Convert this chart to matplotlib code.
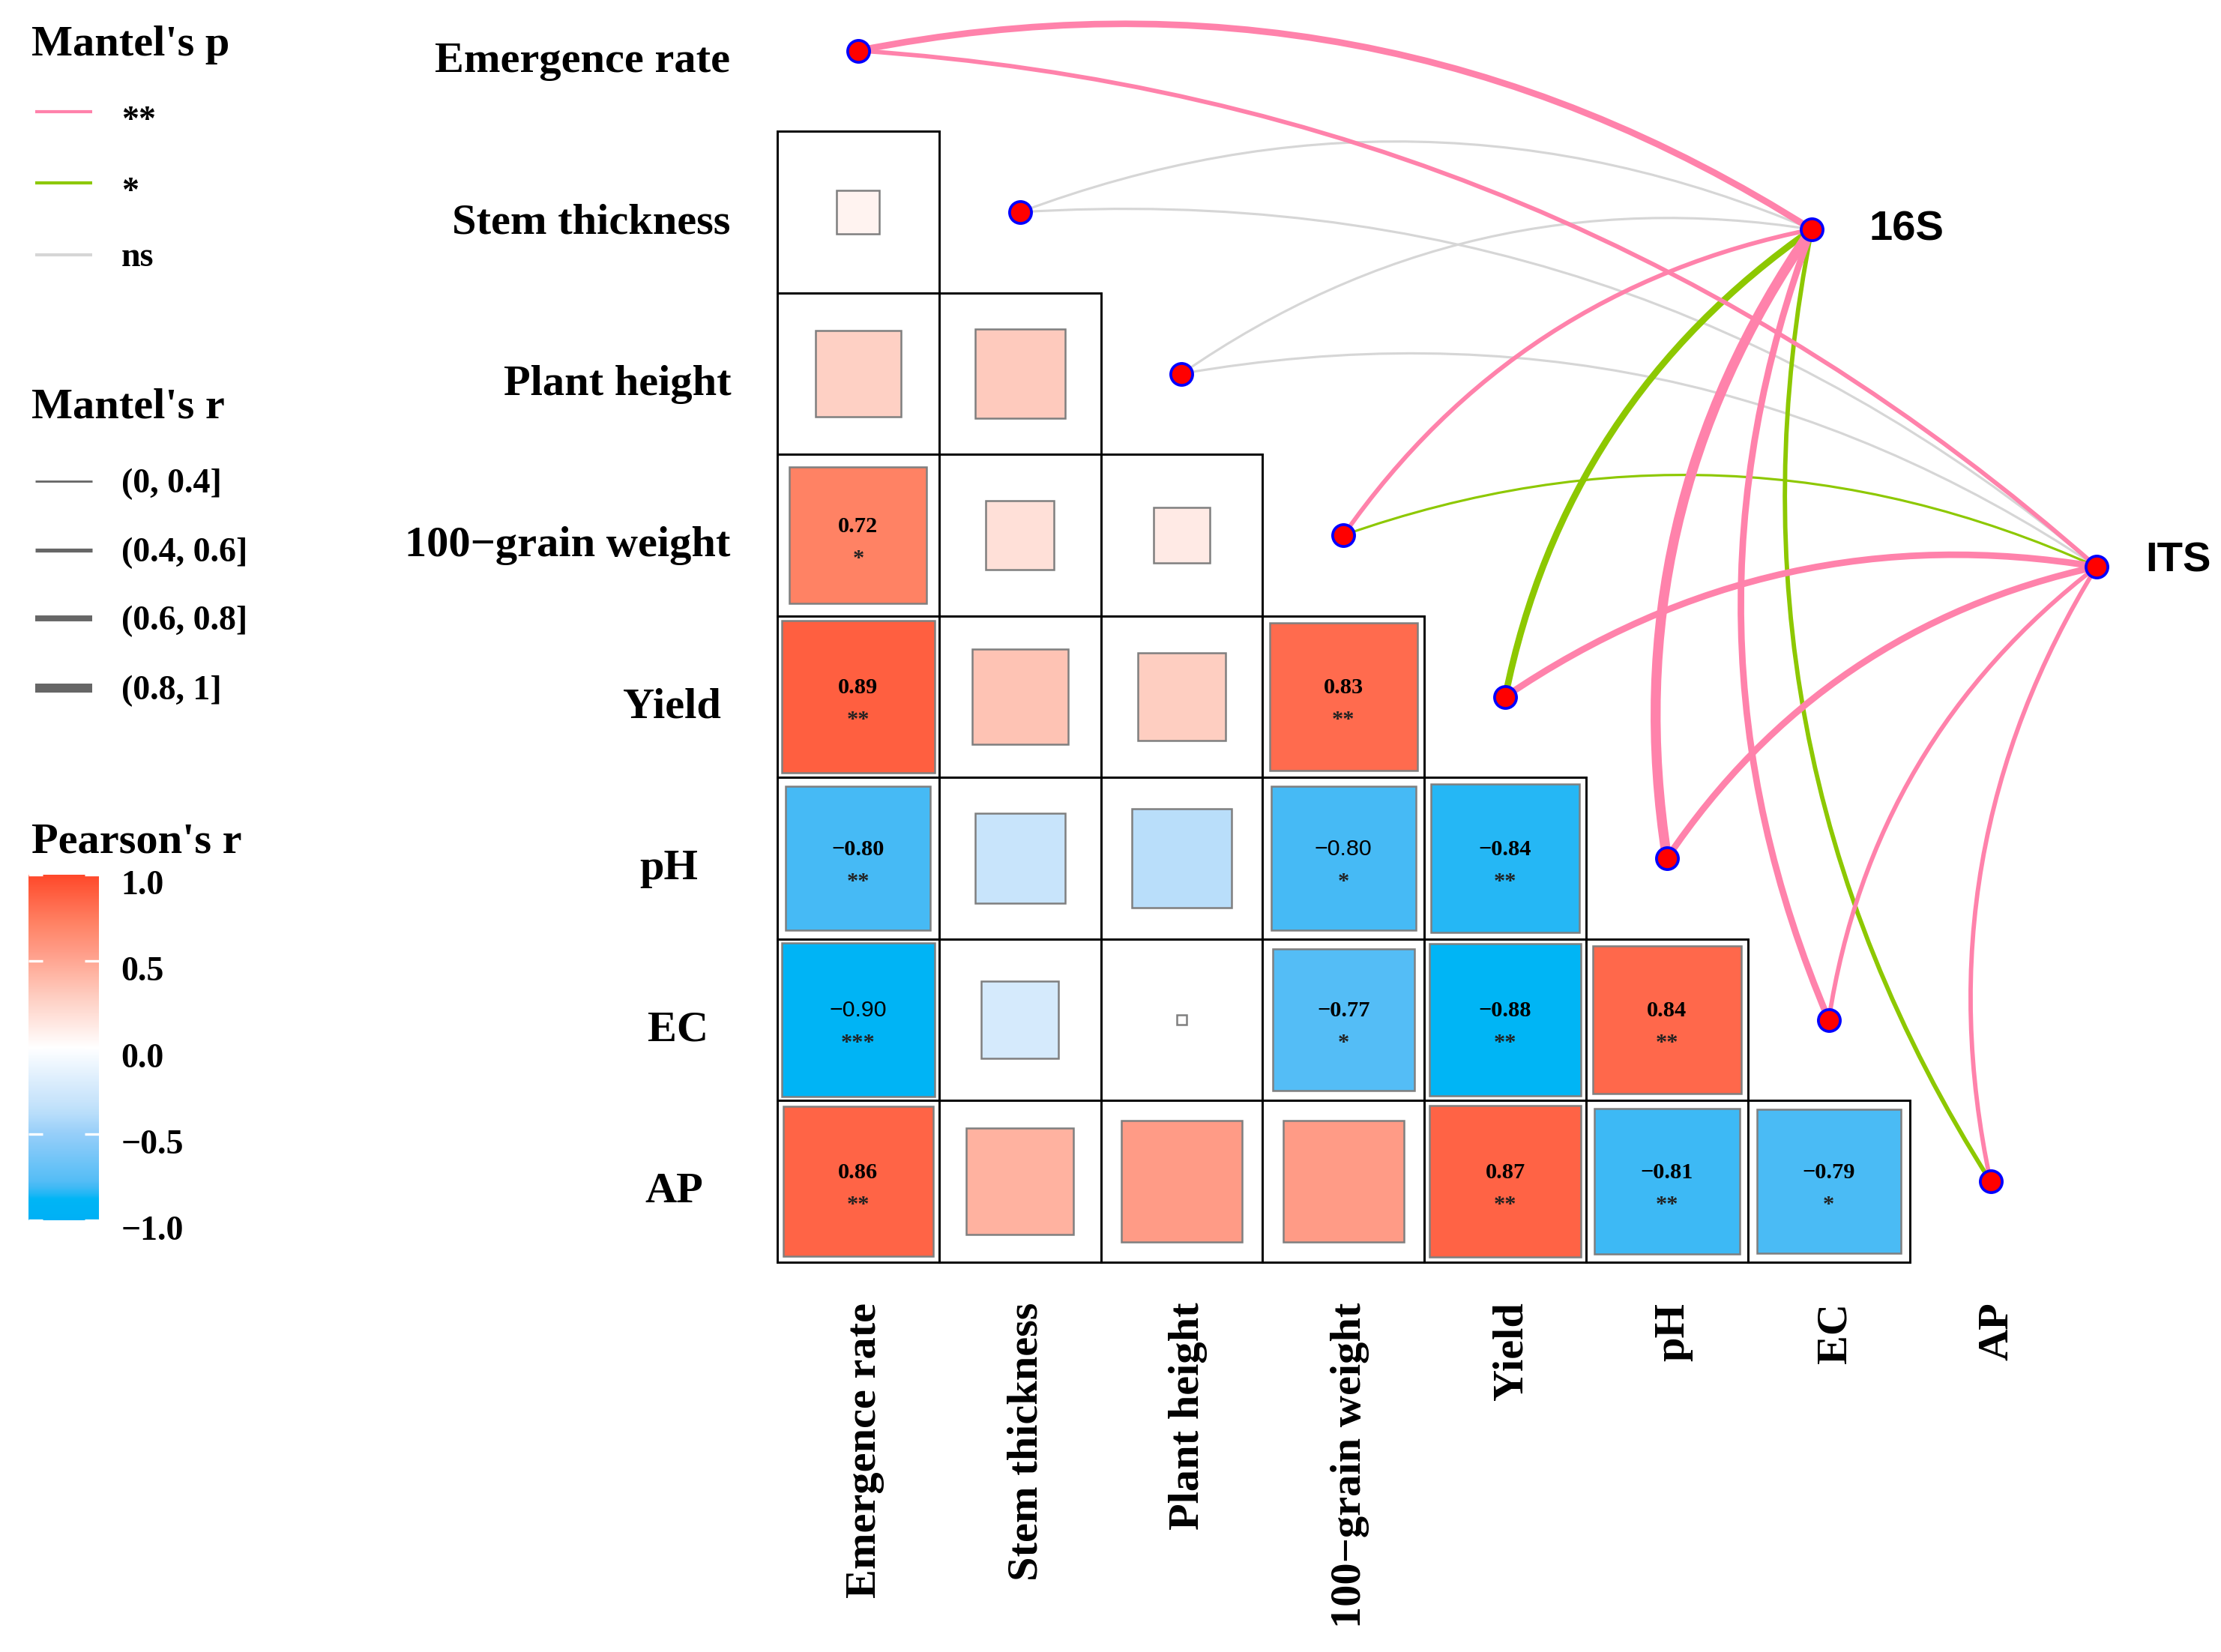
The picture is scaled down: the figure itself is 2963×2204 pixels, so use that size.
import numpy as np
import matplotlib
matplotlib.use("Agg")
import matplotlib.pyplot as plt
from matplotlib.patches import Rectangle, PathPatch
from matplotlib.path import Path
from matplotlib.colors import LinearSegmentedColormap, Normalize
from matplotlib.cm import ScalarMappable
from matplotlib.font_manager import FontProperties
import matplotlib.transforms as mtransforms

# ---------------- data ----------------
variables = ["Emergence rate", "Stem thickness", "Plant height", "100\u2212grain weight",
             "Yield", "pH", "EC", "AP"]

# lower triangle of Pearson's r (row i, columns 0..i-1)
pearson_r = [
    [],
    [0.07],
    [0.28, 0.31],
    [0.72, 0.18, 0.12],
    [0.89, 0.35, 0.29, 0.83],
    [-0.80, -0.31, -0.38, -0.80, -0.84],
    [-0.90, -0.23, 0.004, -0.77, -0.88, 0.84],
    [0.86, 0.44, 0.56, 0.56, 0.87, -0.81, -0.79],
]
pearson_sig = [
    [],
    [""],
    ["", ""],
    ["*", "", ""],
    ["**", "", "", "**"],
    ["**", "", "", "*", "**"],
    ["***", "", "", "*", "**", "**"],
    ["**", "", "", "", "**", "**", "*"],
]
sans_cells = [(6, 0), (5, 3)]  # labels printed in a sans font in the original

mantel_env = ["16S"] * 8 + ["ITS"] * 8
mantel_spec = variables * 2
mantel_p = ["**", "ns", "ns", "**", "*", "**", "**", "*",
            "**", "ns", "ns", "*", "**", "**", "**", "**"]
mantel_r = ["(0.6, 0.8]", "(0, 0.4]", "(0, 0.4]", "(0.4, 0.6]", "(0.6, 0.8]", "(0.8, 1]", "(0.6, 0.8]", "(0.4, 0.6]",
            "(0.4, 0.6]", "(0, 0.4]", "(0, 0.4]", "(0, 0.4]", "(0.6, 0.8]", "(0.6, 0.8]", "(0.4, 0.6]", "(0.4, 0.6]"]

p_levels = ["**", "*", "ns"]
r_levels = ["(0, 0.4]", "(0.4, 0.6]", "(0.6, 0.8]", "(0.8, 1]"]
cbar_ticks = [-1.0, -0.5, 0.0, 0.5, 1.0]
cbar_labels = ["\u22121.0", "\u22120.5", "0.0", "0.5", "1.0"]

# ---------------- style ----------------
p_colors = {"**": "#FF82AB", "*": "#8DC800", "ns": "#D6D6D6"}
r_widths = {"(0, 0.4]": 0.75, "(0.4, 0.6]": 1.4, "(0.6, 0.8]": 2.1, "(0.8, 1]": 3.2}
env_pos = {"16S": (5.895, 1.107), "ITS": (7.656, 3.195)}
env_label_pos = {"16S": (6.25, 1.107), "ITS": (7.96, 3.16)}
row_label_right = [-0.792, -0.792, -0.783, -0.792, -0.848, -0.991, -0.926, -0.959]
edge_curv = [0.20] * 8 + [0.17] + [0.20] * 7

serif_b = FontProperties(family="Liberation Serif", weight="bold")
sans_b = FontProperties(family="Liberation Sans", weight="bold")

# colour scale stops (value, rgb 0-255)
scale_stops = [
    (-1.00, (0, 176, 245)), (-0.88, (0, 181, 245)), (-0.84, (40, 183, 245)),
    (-0.80, (70, 186, 245)), (-0.77, (85, 189, 246)), (-0.50, (150, 206, 249)),
    (-0.38, (185, 222, 250)), (-0.31, (200, 228, 251)), (-0.23, (213, 234, 252)),
    (0.00, (255, 255, 255)),
    (0.12, (255, 234, 229)), (0.28, (254, 208, 196)), (0.44, (255, 178, 160)),
    (0.56, (255, 155, 134)), (0.72, (255, 130, 100)), (0.84, (255, 105, 76)),
    (0.89, (255, 95, 64)), (1.00, (255, 72, 42)),
]
cmap = LinearSegmentedColormap.from_list(
    "pr", [((v + 1) / 2, tuple(c / 255 for c in rgb)) for v, rgb in scale_stops], N=512)
norm = Normalize(-1, 1)

W, H = 2963, 2204
fig = plt.figure(figsize=(W / 300, H / 300), dpi=300)
fig.patch.set_facecolor("white")

# main axes: one data unit = one cell
cell_px_x, cell_px_y = 215.8, 215.5
x0 = -0.5 - 1037 / cell_px_x
y0 = -67.5 / cell_px_y
ax = fig.add_axes([0, 0, 1, 1])
ax.set_xlim(x0, x0 + W / cell_px_x)
ax.set_ylim(y0 + H / cell_px_y, y0)
ax.axis("off")

n = len(variables)

# cells
for i in range(n):
    for j in range(i):
        v = pearson_r[i][j]
        ax.add_patch(Rectangle((j - 0.5, i - 0.5), 1, 1, facecolor="white",
                               edgecolor="black", lw=0.7, zorder=1))
        s = np.sqrt(abs(v))
        ax.add_patch(Rectangle((j - s / 2, i - s / 2), s, s, facecolor=cmap(norm(v)),
                               edgecolor="#7F7F7F", lw=0.6, zorder=2))
        sig = pearson_sig[i][j]
        if sig:
            txt = f"{v:.2f}".replace("-", "\u2212")
            if (i, j) in sans_cells:
                ax.text(j, i - 0.02, txt, ha="center", va="baseline", fontsize=7.3,
                        family="Liberation Sans", zorder=3)
            else:
                ax.text(j, i - 0.02, txt, ha="center", va="baseline", fontsize=7.3,
                        fontproperties=serif_b, zorder=3)
            ax.text(j, i + 0.18, sig, ha="center", va="baseline", fontsize=7.3,
                    fontproperties=serif_b, color="#222222", zorder=3)

# row labels
for i, name in enumerate(variables):
    ax.text(row_label_right[i], i + 0.065, name, ha="right", va="center",
            fontproperties=serif_b, fontsize=14)
# column labels
for j, name in enumerate(variables):
    ax.text(j + 0.04, 7.75, name, ha="center", va="top", rotation=90,
            fontproperties=serif_b, fontsize=14)

# mantel edges (quadratic Bezier, bulging to the left of travel)
order = sorted(range(len(mantel_env)), key=lambda k: -p_levels.index(mantel_p[k]))
for k in order:
    vi = variables.index(mantel_spec[k])
    sx, sy = vi, vi
    ex, ey = env_pos[mantel_env[k]]
    dx, dy = ex - sx, ey - sy
    L = np.hypot(dx, dy)
    nx, ny = dy / L, -dx / L
    cx = (sx + ex) / 2 + edge_curv[k] * L * nx
    cy = (sy + ey) / 2 + edge_curv[k] * L * ny
    path = Path([(sx, sy), (cx, cy), (ex, ey)], [Path.MOVETO, Path.CURVE3, Path.CURVE3])
    ax.add_patch(PathPatch(path, facecolor="none", edgecolor=p_colors[mantel_p[k]],
                           lw=r_widths[mantel_r[k]], capstyle="round", zorder=4))

# nodes
diag = np.arange(n)
ax.plot(diag, diag, "o", ms=7.0, mfc="red", mec="blue", mew=0.9, ls="none", zorder=5)
for name, (x, y) in env_pos.items():
    ax.plot([x], [y], "o", ms=7.0, mfc="red", mec="blue", mew=0.9, zorder=5)
    lx, ly = env_label_pos[name]
    ax.text(lx, ly, name, ha="left", va="center", fontproperties=sans_b, fontsize=13.5)

# ---------------- legends (pixel coordinates) ----------------
lax = fig.add_axes([0, 0, 1, 1])
lax.set_xlim(0, W)
lax.set_ylim(H, 0)
lax.axis("off")

lax.text(42, 60, "Mantel's p", ha="left", va="center", fontproperties=serif_b, fontsize=14)
for lab, y in zip(p_levels, [149, 244, 340]):
    lax.plot([47, 123], [y, y], color=p_colors[lab], lw=1.0, solid_capstyle="butt")
    if "*" in lab:
        lax.text(162, y + 24, lab, ha="left", va="baseline", fontproperties=serif_b, fontsize=11)
    else:
        lax.text(162, y + 4, lab, ha="left", va="center", fontproperties=serif_b, fontsize=11)

lax.text(42, 544, "Mantel's r", ha="left", va="center", fontproperties=serif_b, fontsize=14)
for lab, y in zip(r_levels, [642, 734, 825, 918]):
    lax.plot([47, 123], [y, y], color="#666666", lw=r_widths[lab] * 0.9, solid_capstyle="butt")
    lax.text(162, y + 4, lab, ha="left", va="center", fontproperties=serif_b, fontsize=11)

lax.text(42, 1123, "Pearson's r", ha="left", va="center", fontproperties=serif_b, fontsize=14)

cax = fig.add_axes([38 / W, 1 - 1628 / H, 94 / W, 461 / H])
cb = fig.colorbar(ScalarMappable(norm=norm, cmap=cmap), cax=cax, ticks=cbar_ticks)
cb.outline.set_visible(False)
cb.set_ticklabels(cbar_labels)
cax.tick_params(axis="y", direction="in", length=4.5, width=0.8, color="white",
                left=True, right=True, labelleft=False, labelright=True, pad=7)
shift = mtransforms.ScaledTranslation(0, -2.4 / 72, fig.dpi_scale_trans)
for t in cax.get_yticklabels():
    t.set_fontproperties(serif_b)
    t.set_fontsize(11)
    t.set_transform(t.get_transform() + shift)

fig.savefig("out.png", dpi=300, facecolor="white")
